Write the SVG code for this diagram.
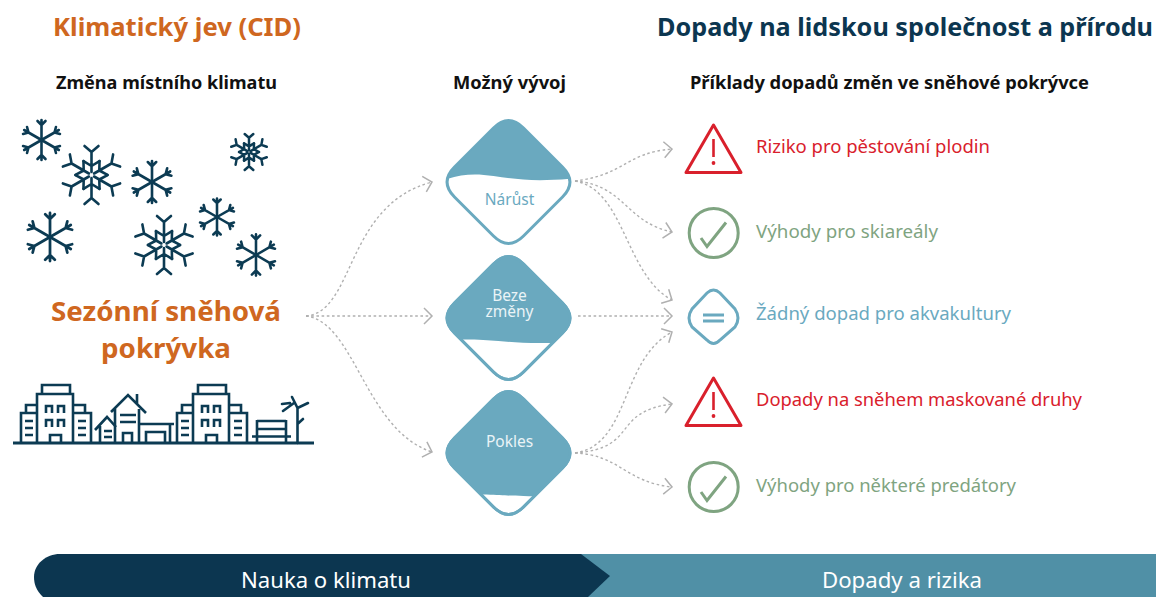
<svg xmlns="http://www.w3.org/2000/svg" xmlns:xlink="http://www.w3.org/1999/xlink" width="1156" height="597" viewBox="0 0 1156 597">
<style>
text{font-family:"Noto Sans","Open Sans","Liberation Sans",sans-serif}
.h1{font-size:25px;font-weight:700}
.h2{font-size:17px;font-weight:700;fill:#111}
.big{font-size:27px;font-weight:700;fill:#cf6720}
.lab{font-size:18px}
.node{font-size:15.5px;text-anchor:middle}
.conn{fill:none;stroke:#b0b0b0;stroke-width:1.4;stroke-dasharray:2.6 2.6}
.sf{fill:none;stroke:#0c3b53;stroke-linecap:round;stroke-linejoin:round}
.city{fill:none;stroke:#0c3b53;stroke-width:2.6;stroke-linejoin:miter}
.dia{fill:#fff;stroke:#6aa9bf;stroke-width:3}
.wat{fill:#6aa9bf}
.red{fill:none;stroke:#d9202c;stroke-width:3;stroke-linejoin:round}
.grn{fill:none;stroke:#7fa481;stroke-width:3}
.blu{fill:none;stroke:#6aa9bf;stroke-width:3}
</style>
<defs>
<marker id="ah" markerUnits="userSpaceOnUse" markerWidth="20" markerHeight="20" refX="9" refY="8" orient="auto" overflow="visible">
<path d="M1,0L9,8L1,16" fill="none" stroke="#b0b0b0" stroke-width="1.5"/>
</marker>
<g id="arm"><path d="M0,0V-20M0,-15L-4,-19M0,-15L4,-19"/></g>
<g id="flake">
<use xlink:href="#arm"/><use xlink:href="#arm" transform="rotate(60)"/><use xlink:href="#arm" transform="rotate(120)"/><use xlink:href="#arm" transform="rotate(180)"/><use xlink:href="#arm" transform="rotate(240)"/><use xlink:href="#arm" transform="rotate(300)"/>
</g>
<g id="farm"><path d="M0,-3V-23M0,-23L-7,-29M0,-23L7,-29M-8,-13.900L0,-9L8,-13.900"/></g>
<g id="fancy">
<use xlink:href="#farm"/><use xlink:href="#farm" transform="rotate(60)"/><use xlink:href="#farm" transform="rotate(120)"/><use xlink:href="#farm" transform="rotate(180)"/><use xlink:href="#farm" transform="rotate(240)"/><use xlink:href="#farm" transform="rotate(300)"/>
</g>
<path id="dshape" d="M-15,-54Q0,-69 15,-54L54,-15Q69,0 54,15L15,54Q0,69 -15,54L-54,15Q-69,0 -54,-15Z"/>
<clipPath id="dclip"><use xlink:href="#dshape"/></clipPath>
<g id="tower">
<path d="M37,443V394H73V443M42,394V385H70V394M37,413H21V443M26,413V405H37M73,413H91V443M85,413V405H73M50,443V435H61V443"/>
<path d="M46,413V406H52V413M58,413V406H64V413M46,427V420H52V427M58,427V420H64V427M25,421H33M25,428H33M25,435H33M78,421H86M78,428H86M78,435H86"/>
</g>
<g id="warn">
<path class="red" d="M713.5,125L741,172.5H686Z"/>
<path d="M713.5,139V157" stroke="#d9202c" stroke-width="2.6" fill="none"/>
<circle cx="713.5" cy="163" r="1.9" fill="#d9202c"/>
</g>
<g id="ok">
<circle class="grn" cx="713.7" cy="233" r="24.5"/>
<path class="grn" d="M701,238L707,246.500L726,222.500"/>
</g>
</defs>

<rect width="1156" height="597" fill="#fff"/>

<text class="h1" x="53" y="36" fill="#cf6720" textLength="248" lengthAdjust="spacingAndGlyphs">Klimatický jev (CID)</text>
<text class="h1" x="657" y="36" fill="#0c3650" textLength="496" lengthAdjust="spacingAndGlyphs">Dopady na lidskou společnost a přírodu</text>
<text class="h2" x="56" y="89" textLength="221" lengthAdjust="spacingAndGlyphs">Změna místního klimatu</text>
<text class="h2" x="453" y="89" textLength="113" lengthAdjust="spacingAndGlyphs">Možný vývoj</text>
<text class="h2" x="690" y="89" textLength="399" lengthAdjust="spacingAndGlyphs">Příklady dopadů změn ve sněhové pokrývce</text>

<g id="snowflakes">
<use class="sf" xlink:href="#flake" transform="translate(41.500,140)" stroke-width="2.6"/>
<use class="sf" xlink:href="#fancy" transform="translate(91.500,175)" stroke-width="2.6"/>
<use class="sf" xlink:href="#flake" transform="translate(152,182) scale(1.05)" stroke-width="2.5"/>
<use class="sf" xlink:href="#fancy" transform="translate(249,152) scale(.62)" stroke-width="4"/>
<use class="sf" xlink:href="#flake" transform="translate(50,237) scale(1.2)" stroke-width="2.3"/>
<use class="sf" xlink:href="#fancy" transform="translate(164,245)" stroke-width="2.6"/>
<use class="sf" xlink:href="#flake" transform="translate(217,217) scale(.92)" stroke-width="2.8"/>
<use class="sf" xlink:href="#flake" transform="translate(256,255) scale(1.03)" stroke-width="2.5"/>
</g>

<g id="title-snow">
<text class="big" x="166" y="321" text-anchor="middle" textLength="230" lengthAdjust="spacingAndGlyphs">Sezónní sněhová</text>
<text class="big" x="166" y="358" text-anchor="middle" textLength="130" lengthAdjust="spacingAndGlyphs">pokrývka</text>
</g>

<g id="city" class="city">
<path d="M13,443H314" stroke-width="3.200"/>
<use xlink:href="#tower"/>
<use xlink:href="#tower" transform="translate(156,0)"/>
<path d="M111,412L128,395L146,413M115,408V443M139,409V443M137,404V394M120,415H136M120,422H136M123,443V433H132V443"/>
<path d="M95,430L107,417L116,427M100,426V443M104,431H112M104,437H112"/>
<path d="M139,424H174M170,424V443M146,443V432H165V443"/>
<path d="M257,420V443M286,420V443M257,421H286M257,429H286M252,436.500H291"/>
<path d="M297.500,443V408L292,397M297.500,424L303,419M297.500,408L308,403M294,403L283,411M290,403L282,404" stroke-linecap="round"/>
</g>

<g id="connectors">
<path class="conn" marker-end="url(#ah)" d="M306,316C355,312 345,205 432,182"/>
<path class="conn" marker-end="url(#ah)" d="M306,316H432"/>
<path class="conn" marker-end="url(#ah)" d="M306,316C355,322 365,430 432,452"/>
<path class="conn" marker-end="url(#ah)" d="M575,181C625,175 625,153 672,149"/>
<path class="conn" marker-end="url(#ah)" d="M575,181C625,185 625,222 672,232"/>
<path class="conn" marker-end="url(#ah)" d="M575,181C625,190 625,275 672,300"/>
<path class="conn" marker-end="url(#ah)" d="M578,316H672"/>
<path class="conn" marker-end="url(#ah)" d="M575,453C630,445 620,360 672,332"/>
<path class="conn" marker-end="url(#ah)" d="M575,453C640,448 610,412 672,404"/>
<path class="conn" marker-end="url(#ah)" d="M575,453C620,455 625,482 672,487"/>
</g>

<g id="node-narust" transform="translate(508.500,182)">
<use class="dia" xlink:href="#dshape"/>
<path class="wat" clip-path="url(#dclip)" d="M-70,-70H70V-4C30,0 10,-2 -15,-6C-35,-9 -50,-8 -70,0Z"/>
<text class="node" x="1" y="23" fill="#6aa9bf">Nárůst</text>
</g>
<g id="node-beze" transform="translate(508.500,318)">
<use class="dia" xlink:href="#dshape"/>
<path class="wat" clip-path="url(#dclip)" d="M-70,-70H70V24C30,26 10,25 -10,23C-25,22 -35,21 -70,22Z"/>
<use xlink:href="#dshape" fill="none" stroke="#6aa9bf" stroke-width="3"/>
<text class="node" x="1" y="-17" fill="#eaf4f7">Beze</text>
<text class="node" x="1" y="-1" fill="#eaf4f7">změny</text>
</g>
<g id="node-pokles" transform="translate(508.500,453)">
<use class="dia" xlink:href="#dshape"/>
<path class="wat" clip-path="url(#dclip)" d="M-70,-70H70V40C50,42 35,44 15,43C-5,43 -15,41 -70,41Z"/>
<use xlink:href="#dshape" fill="none" stroke="#6aa9bf" stroke-width="3"/>
<text class="node" x="1" y="-6" fill="#eaf4f7">Pokles</text>
</g>

<g id="impact-1">
<use xlink:href="#warn"/>
<text class="lab" x="756" y="152.500" fill="#d9202c" textLength="234" lengthAdjust="spacingAndGlyphs">Riziko pro pěstování plodin</text>
</g>
<g id="impact-2">
<use xlink:href="#ok"/>
<text class="lab" x="756" y="237.500" fill="#7fa481" textLength="182" lengthAdjust="spacingAndGlyphs">Výhody pro skiareály</text>
</g>
<g id="impact-3">
<path class="blu" d="M707,293Q713.500,287 720,293L735,309Q741,318 735,327L720,340Q713.500,347 707,340L692,327Q686,318 692,309Z"/>
<path d="M703,315H724M703,321H724" fill="none" stroke="#6aa9bf" stroke-width="3.200"/>
<text class="lab" x="756" y="320" fill="#6aa9bf" textLength="255" lengthAdjust="spacingAndGlyphs">Žádný dopad pro akvakultury</text>
</g>
<g id="impact-4">
<use xlink:href="#warn" transform="translate(0,253)"/>
<text class="lab" x="756" y="405.500" fill="#d9202c" textLength="326" lengthAdjust="spacingAndGlyphs">Dopady na sněhem maskované druhy</text>
</g>
<g id="impact-5">
<use xlink:href="#ok" transform="translate(0,254)"/>
<text class="lab" x="756" y="491.500" fill="#7fa481" textLength="260" lengthAdjust="spacingAndGlyphs">Výhody pro některé predátory</text>
</g>

<g id="banner">
<rect x="560" y="554" width="596" height="43" fill="#5090a6"/>
<path d="M60,554H581L610,576L588,597H43C36,590 34,584 34,577C34,564 46,554 60,554Z" fill="#0c3650"/>
<text x="326" y="588" font-size="21" fill="#fff" text-anchor="middle" textLength="170" lengthAdjust="spacingAndGlyphs">Nauka o klimatu</text>
<text x="902" y="588" font-size="21" fill="#fff" text-anchor="middle" textLength="160" lengthAdjust="spacingAndGlyphs">Dopady a rizika</text>
</g>
</svg>
